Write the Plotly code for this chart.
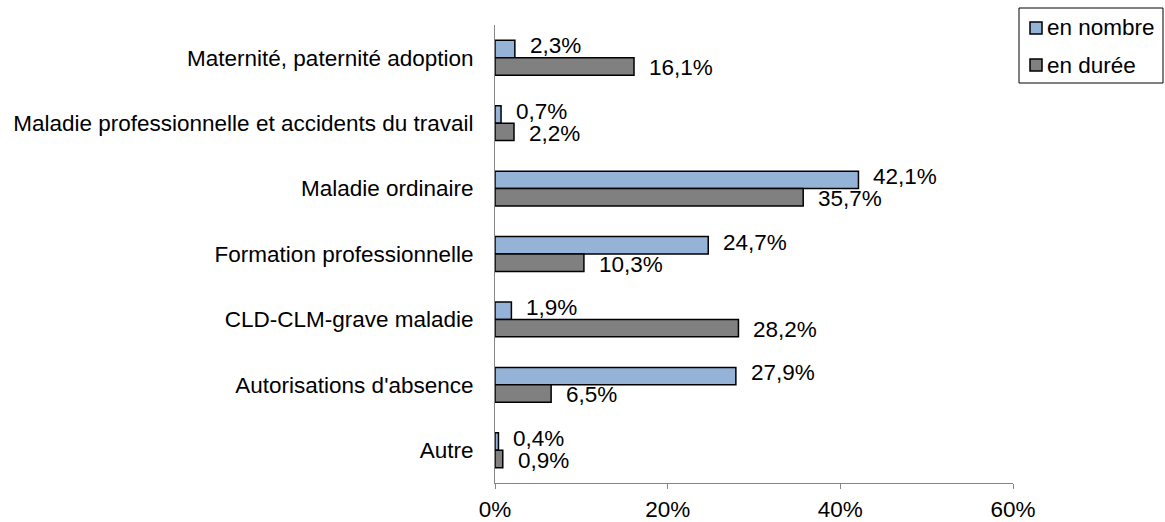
import plotly.graph_objects as go

categories = [
    "Maternité, paternité adoption",
    "Maladie professionnelle et accidents du travail",
    "Maladie ordinaire",
    "Formation professionnelle",
    "CLD-CLM-grave maladie",
    "Autorisations d'absence",
    "Autre",
]
en_nombre = [2.3, 0.7, 42.1, 24.7, 1.9, 27.9, 0.4]
en_duree = [16.1, 2.2, 35.7, 10.3, 28.2, 6.5, 0.9]
x_ticks = [0, 20, 40, 60]
x_tick_labels = ["0%", "20%", "40%", "60%"]

FONT = "Liberation Sans, Arial, sans-serif"
FS = 22.5

# plot area in pixels: used to place the hand-built legend in paper units
W, H = 1165, 522
M_L, M_R, M_T, M_B = 495, 152, 25, 39
PW, PH = W - M_L - M_R, H - M_T - M_B


def px_x(p):
    return (p - M_L) / PW


def px_y(p):
    return (H - M_B - p) / PH


def fr_pct(v):
    return f"{v:.1f}%".replace(".", ",")


series = [
    ("en nombre", en_nombre, "#95B3D7", 12),
    ("en durée", en_duree, "#808080", -10),
]

fig = go.Figure()
annotations = []
shapes = []
for name, values, color, label_shift in series:
    fig.add_trace(go.Bar(
        name=name, y=categories, x=values, orientation="h",
        marker=dict(color=color, line=dict(color="#000000", width=1.5)),
        hoverinfo="x+y", showlegend=False,
    ))
    # value labels sit just right of each bar end, nudged toward their bar
    for cat, v in zip(categories, values):
        annotations.append(dict(
            x=v, y=cat, xref="x", yref="y",
            text=fr_pct(v), showarrow=False,
            xanchor="left", yanchor="middle",
            xshift=13, yshift=label_shift,
            font=dict(size=FS, color="#000000", family=FONT),
        ))

# legend box with a swatch and a label per series
shapes.append(dict(
    type="rect", xref="paper", yref="paper",
    x0=px_x(1019), x1=px_x(1163), y0=px_y(83), y1=px_y(8),
    line=dict(color="#000000", width=1), fillcolor="white", layer="above",
))
for i, (name, values, color, _) in enumerate(series):
    cy = 28 + 37 * i
    shapes.append(dict(
        type="rect", xref="paper", yref="paper",
        x0=px_x(1030), x1=px_x(1042), y0=px_y(cy + 6), y1=px_y(cy - 6),
        line=dict(color="#000000", width=1.5), fillcolor=color, layer="above",
    ))
    annotations.append(dict(
        x=px_x(1045), y=px_y(cy), xref="paper", yref="paper",
        text=name, showarrow=False, xanchor="left", yanchor="middle",
        font=dict(size=FS, color="#000000", family=FONT),
    ))

fig.update_layout(
    width=W, height=H,
    margin=dict(l=M_L, r=M_R, t=M_T, b=M_B, autoexpand=False),
    paper_bgcolor="white", plot_bgcolor="white",
    barmode="group", bargap=0.467, bargroupgap=0,
    font=dict(family=FONT, size=FS, color="#000000"),
    annotations=annotations, shapes=shapes,
    showlegend=False,
    xaxis=dict(
        range=[0, 60], tickvals=x_ticks, ticktext=x_tick_labels,
        showgrid=False, zeroline=False, automargin=False,
        showline=True, linecolor="#868686", linewidth=1,
        ticks="outside", ticklen=5, tickcolor="#868686",
        ticklabelstandoff=1,
    ),
    yaxis=dict(
        autorange="reversed", showgrid=False, zeroline=False, automargin=False,
        showline=True, linecolor="#868686", linewidth=1,
        ticks="", ticklabelstandoff=16,
    ),
)

fig.write_html("out.html")
